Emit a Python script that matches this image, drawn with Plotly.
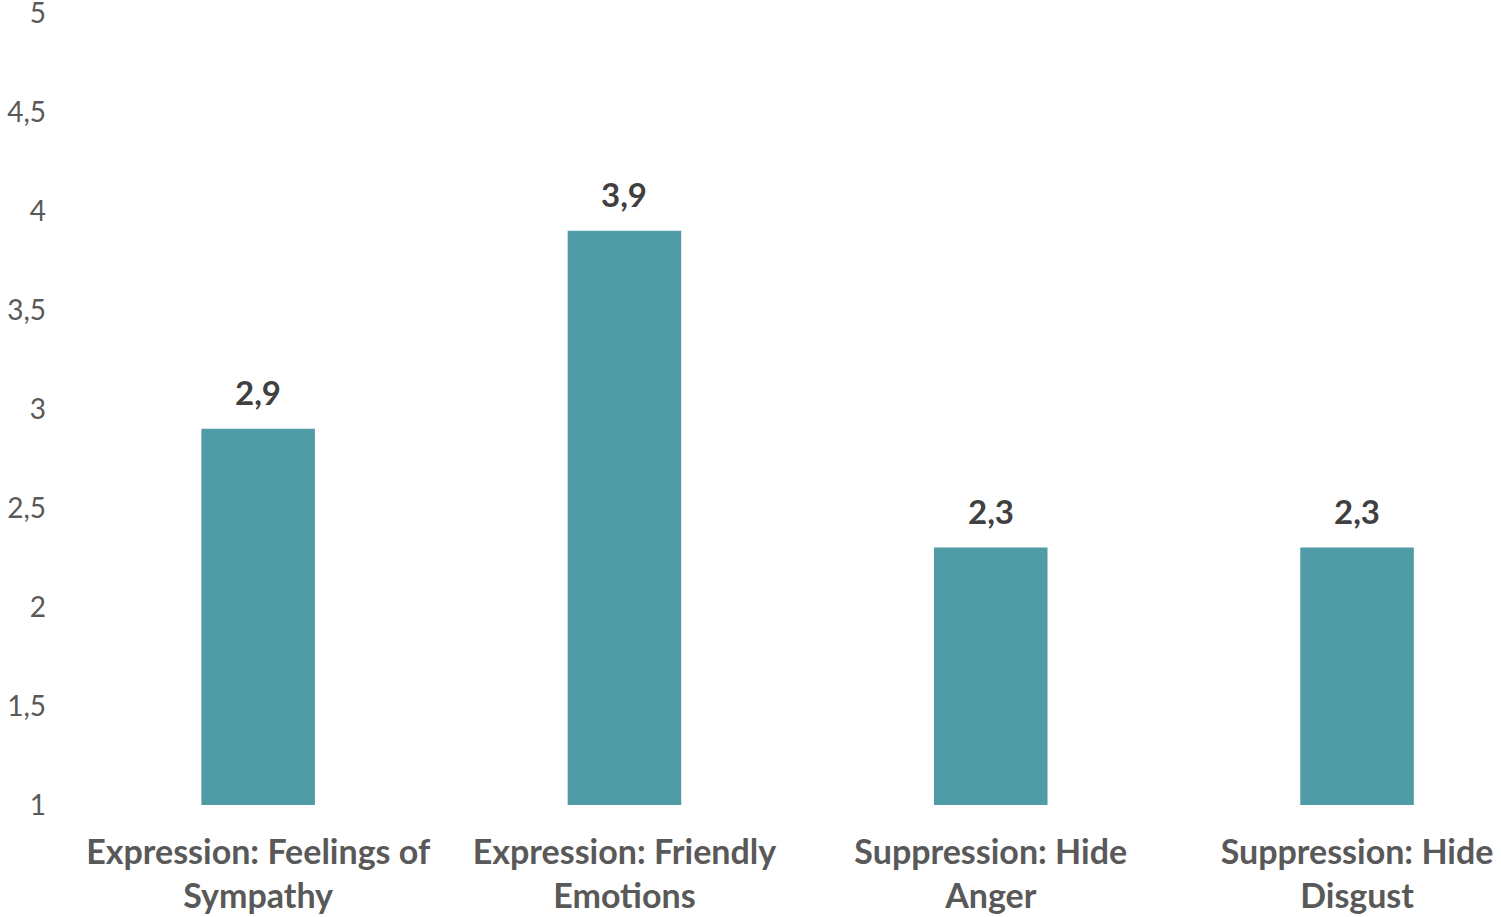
import plotly.graph_objects as go

categories = ["Expression: Feelings of<br>Sympathy", "Expression: Friendly<br>Emotions",
              "Suppression: Hide<br>Anger", "Suppression: Hide<br>Disgust"]
values = [2.9, 3.9, 2.3, 2.3]
y_ticks = [1, 1.5, 2, 2.5, 3, 3.5, 4, 4.5, 5]

FONT = "Lato"
fig = go.Figure()
fig.add_trace(go.Bar(
    x=list(range(len(categories))), y=values, width=0.31,
    marker=dict(color="#4F9BA6", line=dict(width=0)),
    hoverinfo="skip",
))
for i, v in enumerate(values):
    fig.add_annotation(x=i, y=v, text="<b>%s</b>" % f"{v:.1f}".replace(".", ","),
                       showarrow=False, yanchor="bottom", yshift=15,
                       font=dict(family=FONT, size=33, color="#404040"))

fig.update_layout(
    width=1501, height=917,
    margin=dict(l=75, r=0, t=0, b=112, autoexpand=False),
    paper_bgcolor="white", plot_bgcolor="white",
    separators=",.",
    showlegend=False,
    font=dict(family=FONT, color="#595959"),
    xaxis=dict(range=[-0.5, 3.393], tickvals=list(range(len(categories))),
               ticktext=["<b>%s</b>" % c for c in categories],
               tickfont=dict(family=FONT, size=34, color="#595959"),
               showgrid=False, zeroline=False, showline=False, ticks="",
               ticklabelstandoff=24),
    yaxis=dict(range=[1, 5.066], tickvals=y_ticks, tickformat=".1~f",
               tickfont=dict(family=FONT, size=28, color="#595959"),
               showgrid=False, zeroline=False, showline=False, ticks="",
               ticklabelstandoff=28, ticklabeloverflow="allow"),
)
fig.write_html("out.html")
